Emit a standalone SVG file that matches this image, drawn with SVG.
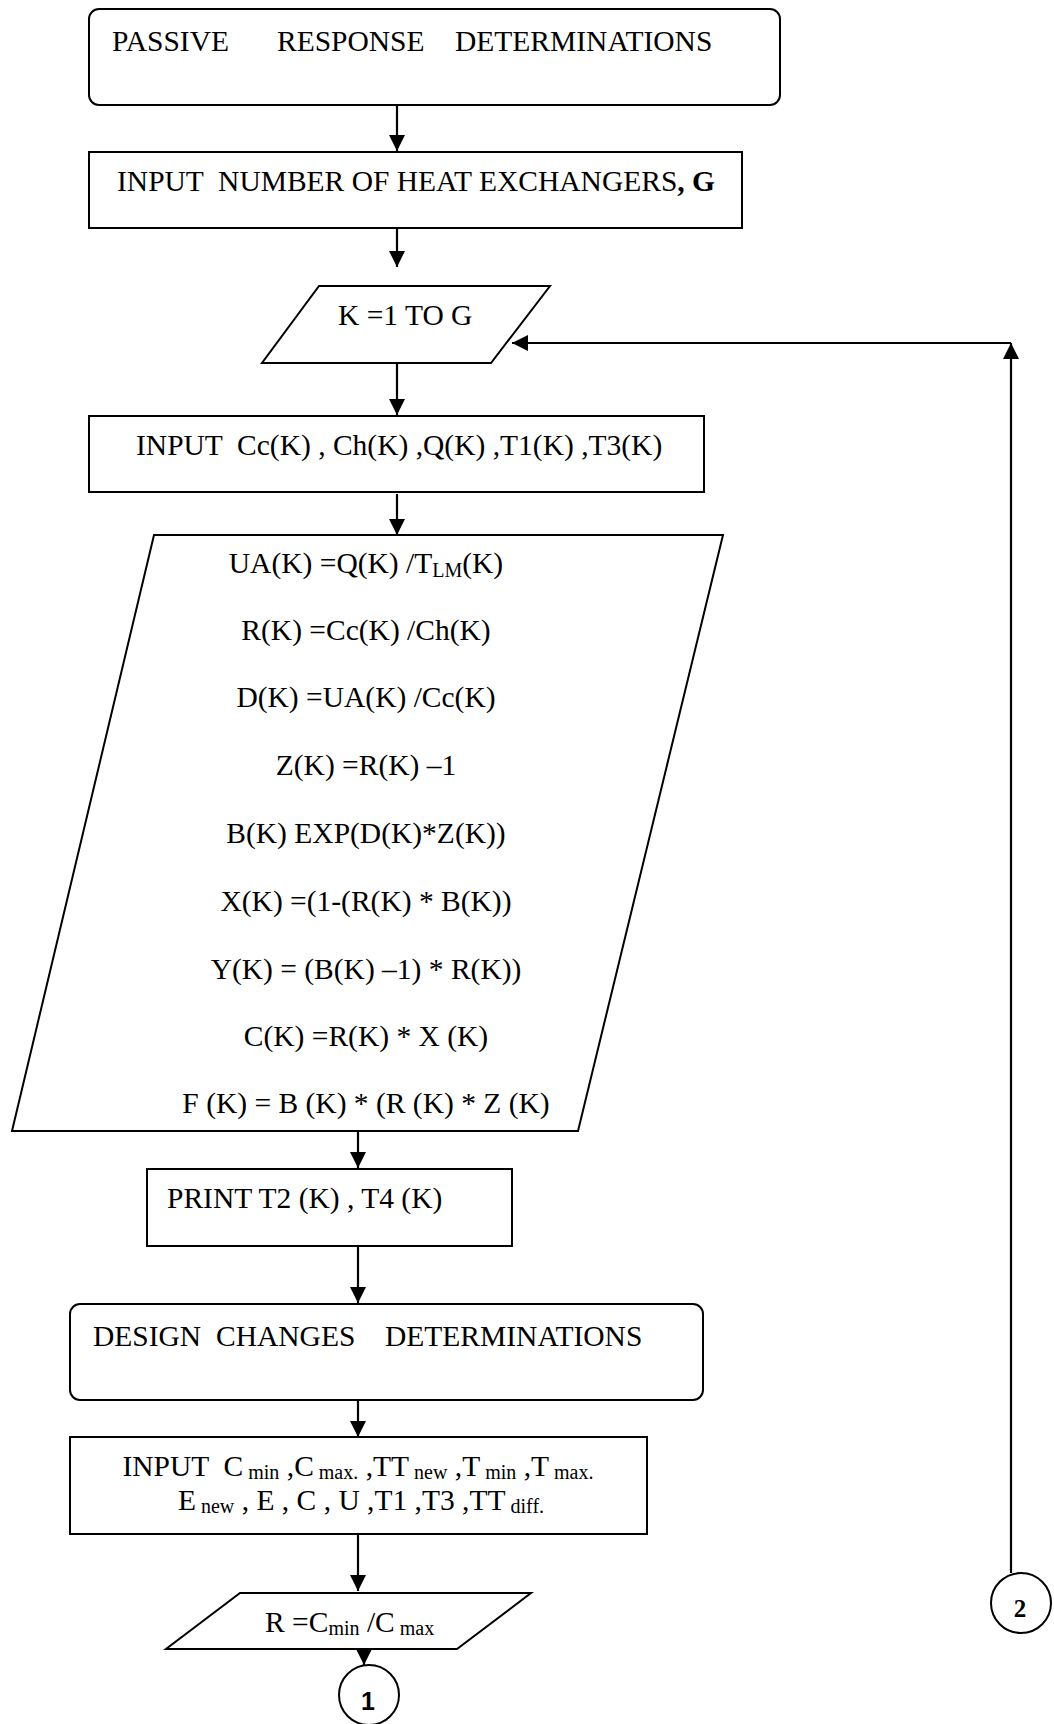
<svg xmlns="http://www.w3.org/2000/svg" width="1054" height="1724" viewBox="0 0 1054 1724">
  <style>
    .shape { fill: #fff; stroke: #000; stroke-width: 2; }
    .conn { fill: none; stroke: #000; stroke-width: 2.2; marker-end: url(#arrow); }
    .t { font-family: "Liberation Serif", "Times New Roman", serif; font-size: 29.5px; fill: #000; }
    .sub { font-size: 20px; }
    .b { font-weight: bold; }
    .num1 { font-family: "Liberation Sans", Arial, sans-serif; font-size: 25px; font-weight: bold; fill: #000; }
    .num2 { font-family: "Liberation Serif", "Times New Roman", serif; font-size: 25px; font-weight: bold; fill: #000; }
  </style>
  <defs>
    <marker id="arrow" viewBox="0 0 16 16" markerWidth="16" markerHeight="16" refX="16" refY="8" orient="auto" markerUnits="userSpaceOnUse">
      <path d="M0,0 L16,8 L0,16 z" fill="#000"/>
    </marker>
  </defs>
  <rect width="1054" height="1724" fill="#fff"/>

  <!-- connectors -->
  <g id="connectors">
    <line class="conn" x1="397" y1="94" x2="397" y2="151"/>
    <line class="conn" x1="397" y1="228" x2="397" y2="267"/>
    <line class="conn" x1="397" y1="363" x2="397" y2="415"/>
    <line class="conn" x1="397" y1="494" x2="397" y2="535"/>
    <line class="conn" x1="358" y1="1131" x2="358" y2="1168"/>
    <line class="conn" x1="358" y1="1246" x2="358" y2="1303"/>
    <line class="conn" x1="358" y1="1400" x2="358" y2="1437"/>
    <line class="conn" x1="358" y1="1534" x2="358" y2="1591"/>
    <line class="conn" x1="364" y1="1642" x2="364" y2="1665"/>
    <line class="conn" x1="1011" y1="1573" x2="1011" y2="343"/>
    <line class="conn" x1="1011" y1="343" x2="512" y2="343"/>
  </g>

  <!-- passive response heading -->
  <g id="passive-start">
    <rect class="shape" x="89" y="9" width="691" height="96" rx="10"/>
    <text class="t" y="51"><tspan x="112">PASSIVE</tspan><tspan x="277">RESPONSE</tspan><tspan x="455">DETERMINATIONS</tspan></text>
  </g>

  <g id="input-g">
    <rect class="shape" x="89" y="152" width="653" height="76"/>
    <text class="t" x="117" y="191" xml:space="preserve">INPUT  NUMBER OF HEAT EXCHANGERS<tspan class="b">, G</tspan></text>
  </g>

  <g id="loop-k">
    <polygon class="shape" points="319,286 550,286 491,363 262,363"/>
    <text class="t" x="338" y="325">K =1 TO G</text>
  </g>

  <g id="input-k">
    <rect class="shape" x="89" y="416" width="615" height="76"/>
    <text class="t" x="136" y="455" xml:space="preserve">INPUT  Cc(K) , Ch(K) ,Q(K) ,T1(K) ,T3(K)</text>
  </g>

  <g id="calc-k">
    <polygon class="shape" points="154,535 723,535 578,1131 12,1131"/>
    <g class="t" text-anchor="middle">
      <text x="366" y="573">UA(K) =Q(K) /T<tspan class="sub" dy="4">LM</tspan><tspan dy="-4">(K)</tspan></text>
      <text x="366" y="640">R(K) =Cc(K) /Ch(K)</text>
      <text x="366" y="707">D(K) =UA(K) /Cc(K)</text>
      <text x="366" y="775">Z(K) =R(K) –1</text>
      <text x="366" y="843">B(K) EXP(D(K)*Z(K))</text>
      <text x="366" y="911">X(K) =(1-(R(K) * B(K))</text>
      <text x="366" y="979">Y(K) = (B(K) –1) * R(K))</text>
      <text x="366" y="1046">C(K) =R(K) * X (K)</text>
      <text x="366" y="1113">F (K) = B (K) * (R (K) * Z (K)</text>
    </g>
  </g>

  <g id="print-k">
    <rect class="shape" x="147" y="1169" width="365" height="77"/>
    <text class="t" x="167" y="1208">PRINT T2 (K) , T4 (K)</text>
  </g>

  <!-- design changes heading -->
  <g id="design-start">
    <rect class="shape" x="70" y="1304" width="633" height="96" rx="10"/>
    <text class="t" y="1346"><tspan x="93">DESIGN</tspan><tspan x="216">CHANGES</tspan><tspan x="385">DETERMINATIONS</tspan></text>
  </g>

  <g id="input-design">
    <rect class="shape" x="70" y="1437" width="577" height="97"/>
    <text class="t" x="358" y="1476" text-anchor="middle" xml:space="preserve">INPUT  C<tspan class="sub" dy="3"> min</tspan><tspan dy="-3"> ,C</tspan><tspan class="sub" dy="3"> max.</tspan><tspan dy="-3"> ,TT</tspan><tspan class="sub" dy="3"> new</tspan><tspan dy="-3"> ,T</tspan><tspan class="sub" dy="3"> min</tspan><tspan dy="-3"> ,T</tspan><tspan class="sub" dy="3"> max.</tspan></text>
    <text class="t" x="361" y="1510" text-anchor="middle" xml:space="preserve">E<tspan class="sub" dy="3"> new</tspan><tspan dy="-3"> , E , C , U ,T1 ,T3 ,TT</tspan><tspan class="sub" dy="3"> diff.</tspan></text>
  </g>

  <g id="ratio">
    <polygon class="shape" points="240,1593 531,1593 457,1649 166,1649"/>
    <text class="t" x="265" y="1632" xml:space="preserve">R =C<tspan class="sub" dy="3">min</tspan><tspan dy="-3"> /C</tspan><tspan class="sub" dy="3"> max</tspan></text>
  </g>

  <g id="connector-1">
    <circle class="shape" cx="369" cy="1695" r="30"/>
    <text class="num1" x="368" y="1710" text-anchor="middle">1</text>
  </g>

  <g id="connector-2">
    <circle class="shape" cx="1021" cy="1603" r="30"/>
    <text class="num2" x="1020" y="1617" text-anchor="middle">2</text>
  </g>
</svg>
